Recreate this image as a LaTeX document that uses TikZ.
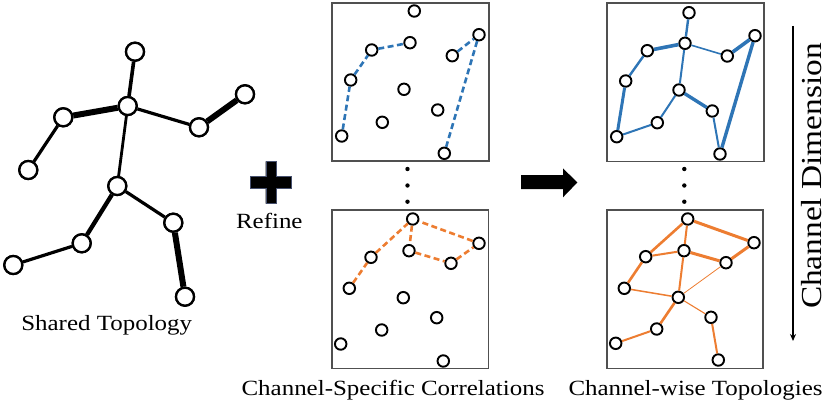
\documentclass[tikz,border=0pt]{standalone}
\usepackage{fontspec}
\setmainfont{Liberation Serif}[FakeStretch=1.15]
\usetikzlibrary{arrows.meta}
\definecolor{cblue}{RGB}{46,117,182}
\definecolor{corange}{RGB}{237,125,49}
\definecolor{boxgray}{RGB}{80,80,80}
\definecolor{slate}{RGB}{70,80,110}
\begin{document}
\begin{tikzpicture}[x=1pt,y=-1pt,
  sj/.style={circle,draw,fill=white,line width=2.3pt,minimum size=18pt,inner sep=0pt},
  jt/.style={circle,draw,fill=white,line width=1.9pt,minimum size=11.5pt,inner sep=0pt},
  frame/.style={draw=boxgray,line width=1.4pt},
  bd/.style={cblue,line width=2.6pt,dash pattern=on 6pt off 3.5pt},
  od/.style={corange,line width=2.6pt,dash pattern=on 6pt off 3.5pt},
  lbl/.style={font=\fontsize{21.7pt}{24pt}\selectfont,inner sep=0pt}]
\useasboundingbox (0,0) rectangle (830,401);
% ---------- shared skeleton ----------
\node[sj] (sh)  at (135,51.7) {};
\node[sj] (sn)  at (127.7,106) {};
\node[sj] (sls) at (63.3,117.3) {};
\node[sj] (slh) at (28.3,170) {};
\node[sj] (sre) at (199,127.3) {};
\node[sj] (srh) at (245,94.3) {};
\node[sj] (shp) at (117.3,186) {};
\node[sj] (slk) at (81.7,243.3) {};
\node[sj] (slf) at (13.3,265) {};
\node[sj] (srk) at (173.3,222.7) {};
\node[sj] (srf) at (185,296.7) {};
\begin{scope}[line width=3.2pt]
\draw[line width=3.6pt] (sh) -- (sn);
\draw[line width=6pt] (sn) -- (sls);
\draw (sls) -- (slh);
\draw (sn) -- (sre);
\draw[line width=6pt] (sre) -- (srh);
\draw[line width=2.8pt] (sn) -- (shp);
\draw[line width=4.3pt] (shp) -- (slk);
\draw (slk) -- (slf);
\draw (shp) -- (srk);
\draw[line width=6pt] (srk) -- (srf);
\end{scope}
\foreach \n in {sh,sn,sls,slh,sre,srh,shp,slk,slf,srk,srf}{\node[sj] at (\n) {};}
\node[lbl,anchor=base] (tshared) at (106.7,330) {Shared Topology};
% ---------- plus / refine ----------
\filldraw[fill=black,draw=slate,line width=0.4pt]
  (265.7,161.5) -- (276,161.5) -- (276,176.5) -- (291.3,176.5) -- (291.3,188) -- (276,188)
  -- (276,203.5) -- (265.7,203.5) -- (265.7,188) -- (250.3,188) -- (250.3,176.5) -- (265.7,176.5) -- cycle;
\node[lbl,anchor=base] (trefine) at (269.3,228.3) {Refine};
% ---------- middle boxes ----------
\draw[frame] (332,3) rectangle (489,161);
\draw[frame] (332,210) rectangle (488.5,368.5);
\node[jt] (mh)  at (414.3,11) {};
\node[jt] (mrh) at (479,34.7) {};
\node[jt] (mls) at (371.7,50) {};
\node[jt] (mn)  at (410,42.7) {};
\node[jt] (mre) at (452.3,55.7) {};
\node[jt] (mlh) at (350.7,80) {};
\node[jt] (mhp) at (404,89.3) {};
\node[jt] (mrk) at (437.7,110) {};
\node[jt] (mlk) at (382.3,122.3) {};
\node[jt] (mlf) at (341.7,136) {};
\node[jt] (mrf) at (444.3,153.3) {};
\draw[bd] (mlf) -- (mlh);
\draw[bd] (mlh) -- (mls);
\draw[bd] (mls) -- (mn);
\draw[bd] (mre) -- (mrh);
\draw[bd] (mrh) -- (mrf);
\node[jt] (bh)  at (412.7,219) {};
\node[jt] (brh) at (479,243.3) {};
\node[jt] (bls) at (371,257.3) {};
\node[jt] (bn)  at (409,250.7) {};
\node[jt] (bre) at (451,263.3) {};
\node[jt] (blh) at (349.3,288.3) {};
\node[jt] (bhp) at (403.3,297.7) {};
\node[jt] (brk) at (436.7,317.7) {};
\node[jt] (blk) at (381.7,330) {};
\node[jt] (blf) at (340.7,344) {};
\node[jt] (brf) at (443.3,361) {};
\draw[od] (blh) -- (bls);
\draw[od] (bls) -- (bh);
\draw[od] (bh) -- (bn);
\draw[od] (bn) -- (bre);
\draw[od] (bre) -- (brh);
\draw[od] (brh) -- (bh);
\foreach \y in {169,185.5,201.7}{\fill (407.5,\y) circle (2.2);}
\node[lbl,anchor=base] (tcsc) at (393,395) {Channel-Specific Correlations};
% ---------- big arrow ----------
\fill (521,175) -- (563,175) -- (563,168.3) -- (577.3,182.5) -- (563,197.3) -- (563,189) -- (521,189) -- cycle;
% ---------- right boxes ----------
\draw[frame] (607,3) rectangle (764,161.5);
\draw[frame] (607,210) rectangle (763,368.3);
\node[jt] (th)  at (689,12.7) {};
\node[jt] (trh) at (755,35.7) {};
\node[jt] (tls) at (647.3,50.7) {};
\node[jt] (tn)  at (685,43.3) {};
\node[jt] (tre) at (727.3,56) {};
\node[jt] (tlh) at (625.7,81) {};
\node[jt] (thp) at (679,90) {};
\node[jt] (trk) at (712.3,111) {};
\node[jt] (tlk) at (657.3,122.7) {};
\node[jt] (tlf) at (616.7,136.7) {};
\node[jt] (trf) at (720,154) {};
\begin{scope}[cblue]
\draw[line width=2.4pt] (th) -- (tn);
\draw[line width=3.6pt] (tn) -- (tls);
\draw[line width=1.6pt] (tn) -- (tre);
\draw[line width=3.6pt] (tre) -- (trh);
\draw[line width=2pt] (tn) -- (thp);
\draw[line width=2.4pt] (tls) -- (tlh);
\draw[line width=3pt] (tlh) -- (tlf);
\draw[line width=2pt] (tlf) -- (tlk);
\draw[line width=2pt] (tlk) -- (thp);
\draw[line width=3.4pt] (thp) -- (trk);
\draw[line width=2pt] (trk) -- (trf);
\draw[line width=3.4pt] (trf) -- (trh);
\end{scope}
\node[jt] (rh)  at (687.7,219) {};
\node[jt] (rrh) at (754,242.7) {};
\node[jt] (rls) at (645.7,256.7) {};
\node[jt] (rn)  at (684,250.7) {};
\node[jt] (rre) at (726,262.7) {};
\node[jt] (rlh) at (624.3,288.3) {};
\node[jt] (rhp) at (678.3,297.3) {};
\node[jt] (rrk) at (711,317.3) {};
\node[jt] (rlk) at (656.7,329) {};
\node[jt] (rlf) at (615.7,343.3) {};
\node[jt] (rrf) at (718.3,360) {};
\begin{scope}[corange]
\draw[line width=2pt] (rh) -- (rn);
\draw[line width=2.6pt] (rh) -- (rls);
\draw[line width=3pt] (rh) -- (rrh);
\draw[line width=3pt] (rrh) -- (rre);
\draw[line width=3pt] (rn) -- (rre);
\draw[line width=2pt] (rn) -- (rls);
\draw[line width=2pt] (rn) -- (rhp);
\draw[line width=2.6pt] (rls) -- (rlh);
\draw[line width=1.5pt] (rlh) -- (rhp);
\draw[line width=0.8pt] (rhp) -- (rre);
\draw[line width=2.6pt] (rhp) -- (rlk);
\draw[line width=1.1pt] (rhp) -- (rrk);
\draw[line width=2pt] (rlk) -- (rlf);
\draw[line width=2pt] (rrk) -- (rrf);
\end{scope}
\foreach \y in {169,185.5,201.7}{\fill (684.3,\y) circle (2.2);}
\node[lbl,anchor=base] (tcwt) at (695.5,395) {Channel-wise Topologies};
% ---------- channel dimension ----------
\coordinate (cdtop) at (793,26);
\coordinate (cdbot) at (793,341);
\draw[line width=1.5pt,-{Stealth[length=7pt,width=6pt]}] (cdtop) -- (cdbot);
\node[font=\fontsize{29pt}{32pt}\selectfont,inner sep=0pt,rotate=90,anchor=base] (tcd) at (821,176) {Channel Dimension};
\end{tikzpicture}
\end{document}
